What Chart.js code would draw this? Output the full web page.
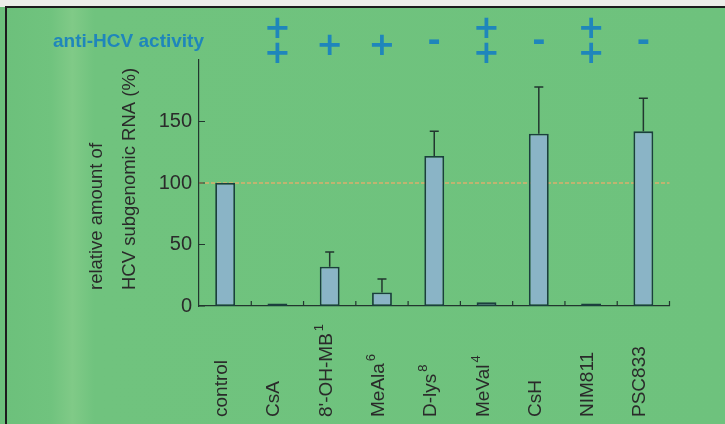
<!DOCTYPE html>
<html>
<head>
<meta charset="utf-8">
<script src="https://cdn.jsdelivr.net/npm/chart.js@4.4.0/dist/chart.umd.min.js"></script>
<style>
  html, body { margin: 0; padding: 0; background: #fff; }
  #wrap { width: 725px; height: 424px; position: relative; }
</style>
</head>
<body>
<div id="wrap"><canvas id="rnaChart" width="725" height="424"></canvas></div>
<script>
// compounds on the x axis, superscript after each name
const compounds = ['control', 'CsA', "8'-OH-MB", 'MeAla', 'D-lys', 'MeVal', 'CsH', 'NIM811', 'PSC833'];
const superscripts = ['', '', '1', '6', '8', '4', '', '', ''];
// relative amount of HCV subgenomic RNA (%)
const rnaLevels = [100, 2, 32, 11, 122, 3, 140, 2, 142];
// top of the error bar (null = none drawn)
const errorTops = [null, null, 44, 22, 142, null, 178, null, 169];
// anti-HCV activity row
const activity = ['', '++', '+', '+', '-', '++', '-', '++', '-'];
const yTicks = [0, 50, 100, 150];
const referenceLevel = 100;

const INK = '#22362f';
const SIGN_BLUE = '#1f86bb';

const backdrop = {
  id: 'backdrop',
  beforeDraw(chart) {
    const { ctx, width, height } = chart;
    ctx.save();
    const g = ctx.createLinearGradient(0, 0, width, 0);
    g.addColorStop(0, '#6cc07b');
    g.addColorStop(0.07, '#70c37e');
    g.addColorStop(0.1, '#80ca87');
    g.addColorStop(0.13, '#70c37e');
    g.addColorStop(1, '#6ec27d');
    ctx.fillStyle = g;
    ctx.fillRect(0, 0, width, height);
    ctx.fillStyle = '#eceee9';
    ctx.fillRect(0, 0, width, 7);
    ctx.fillStyle = '#1c1c1c';
    ctx.fillRect(5, 6, width - 5, 2);
    ctx.fillRect(5, 6, 2, height - 6);
    ctx.restore();
  },
  beforeDatasetsDraw(chart) {
    const { ctx, chartArea, scales: { y } } = chart;
    const yy = y.getPixelForValue(referenceLevel);
    ctx.save();
    ctx.strokeStyle = '#dcae6c';
    ctx.lineWidth = 1.3;
    ctx.setLineDash([4, 2]);
    ctx.beginPath();
    ctx.moveTo(chartArea.left, yy);
    ctx.lineTo(chartArea.right, yy);
    ctx.stroke();
    ctx.restore();
  }
};

const annotations = {
  id: 'annotations',
  afterDatasetsDraw(chart) {
    const { ctx, chartArea, scales: { x, y } } = chart;
    ctx.save();

    // error bars
    ctx.strokeStyle = INK;
    ctx.lineWidth = 1.5;
    errorTops.forEach((top, i) => {
      if (top == null) return;
      const cx = x.getPixelForValue(i);
      const y0 = y.getPixelForValue(rnaLevels[i]);
      const y1 = y.getPixelForValue(top);
      ctx.beginPath();
      ctx.moveTo(cx, y0);
      ctx.lineTo(cx, y1);
      ctx.moveTo(cx - 4.5, y1);
      ctx.lineTo(cx + 4.5, y1);
      ctx.stroke();
    });

    // inward tick marks
    ctx.lineWidth = 1.2;
    ctx.beginPath();
    yTicks.forEach(v => {
      const yy = y.getPixelForValue(v);
      ctx.moveTo(chartArea.left, yy);
      ctx.lineTo(chartArea.left + 6, yy);
    });
    const step = (chartArea.right - chartArea.left) / compounds.length;
    for (let i = 1; i <= compounds.length; i++) {
      const xx = chartArea.left + step * i;
      ctx.moveTo(xx, chartArea.bottom);
      ctx.lineTo(xx, chartArea.bottom - 5);
    }
    ctx.stroke();

    // rotated category labels, bottom aligned
    ctx.fillStyle = '#2a2a2a';
    ctx.textAlign = 'left';
    ctx.textBaseline = 'alphabetic';
    compounds.forEach((name, i) => {
      const cx = x.getPixelForValue(i);
      ctx.save();
      ctx.translate(cx + 2, 417);
      ctx.rotate(-Math.PI / 2);
      ctx.font = '19px "Liberation Sans", Arial, sans-serif';
      ctx.fillText(name, 0, 0);
      if (superscripts[i]) {
        const w = ctx.measureText(name).width;
        ctx.font = '13px "Liberation Sans", Arial, sans-serif';
        ctx.fillText(superscripts[i], w + 2, -9);
      }
      ctx.restore();
    });

    // y axis title, two lines
    ctx.font = '18.5px "Liberation Sans", Arial, sans-serif';
    [['relative amount of', 102], ['HCV subgenomic RNA (%)', 135]].forEach(([t, bx]) => {
      ctx.save();
      ctx.translate(bx, 290);
      ctx.rotate(-Math.PI / 2);
      ctx.fillText(t, 0, 0);
      ctx.restore();
    });

    // anti-HCV activity row
    ctx.fillStyle = SIGN_BLUE;
    ctx.font = 'bold 19px "Liberation Sans", Arial, sans-serif';
    ctx.fillText('anti-HCV activity', 53, 47);
    ctx.textAlign = 'center';
    ctx.textBaseline = 'middle';
    ctx.font = 'bold 32px "DejaVu Sans", sans-serif';
    activity.forEach((a, i) => {
      const cx = x.getPixelForValue(i);
      if (a === '++') {
        ctx.fillText('+', cx, 30);
        ctx.fillText('+', cx, 55);
      } else if (a === '+') {
        ctx.fillText('+', cx, 47);
      } else if (a === '-') {
        ctx.fillText('-', cx, 43);
      }
    });

    ctx.restore();
  }
};

new Chart(document.getElementById('rnaChart').getContext('2d'), {
  type: 'bar',
  data: {
    labels: compounds,
    datasets: [{
      data: rnaLevels,
      backgroundColor: '#8ab4c6',
      borderColor: '#1b3f3d',
      borderWidth: 1.8,
      borderSkipped: false,
      barPercentage: 0.38,
      categoryPercentage: 1,
    }],
  },
  options: {
    responsive: false,
    animation: false,
    layout: { padding: { left: 0, top: 60, right: 55.5, bottom: 0 } },
    plugins: { legend: { display: false }, tooltip: { enabled: false } },
    scales: {
      x: {
        grid: { display: false, drawTicks: false },
        ticks: { display: false },
        border: { display: true, color: INK, width: 1.2 },
        afterFit(scale) { scale.height = 118; },
      },
      y: {
        min: 0,
        max: 200,
        grid: { display: false, drawTicks: false },
        border: { display: true, color: INK, width: 1.2 },
        ticks: {
          stepSize: 50,
          padding: 7,
          color: '#2b2b2b',
          font: { family: '"Liberation Sans", Arial, sans-serif', size: 20 },
          callback: v => (yTicks.includes(v) ? v : ''),
        },
        afterFit(scale) { scale.width = 199; },
      },
    },
  },
  plugins: [backdrop, annotations],
});
</script>
</body>
</html>
